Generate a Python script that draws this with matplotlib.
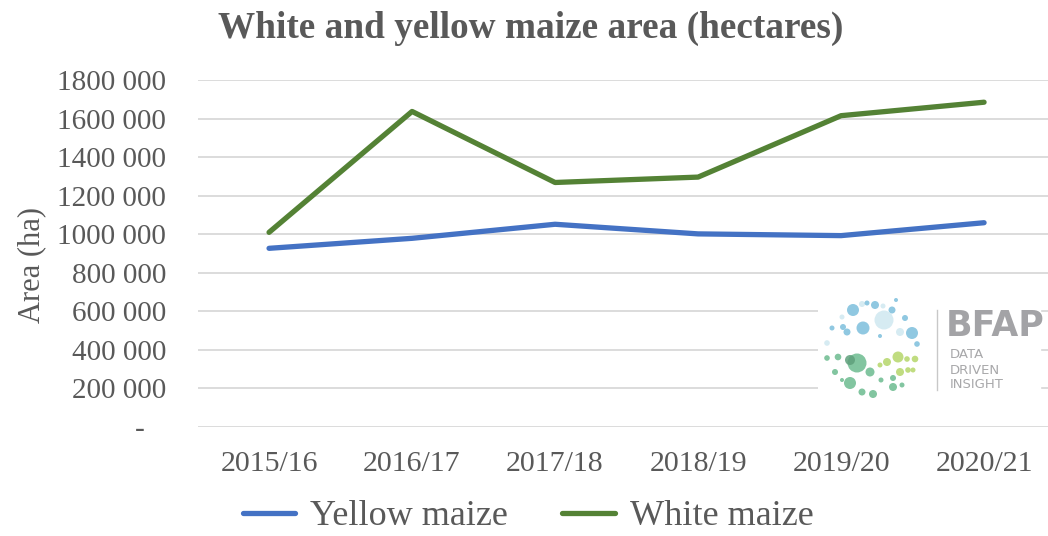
import numpy as np
import matplotlib
matplotlib.use("Agg")
import matplotlib.pyplot as plt
from matplotlib.patches import Circle, Rectangle
from matplotlib.ticker import FuncFormatter

# ---- data ----
seasons = ["2015/16", "2016/17", "2017/18", "2018/19", "2019/20", "2020/21"]
yellow = [928000, 980000, 1053000, 1003000, 994000, 1061000]
white = [1011000, 1639000, 1270000, 1298000, 1617000, 1687000]
yticks = np.arange(0, 1800001, 200000)

GREY = "#595959"
plt.rcParams["font.family"] = ["Liberation Serif", "DejaVu Serif"]

fig = plt.figure(figsize=(10.48, 5.36), dpi=100)
ax = fig.add_axes([0.1885, 0.2034, 0.8115, 0.6465])

x = np.arange(len(seasons))
ax.plot(x, yellow, color="#4472C4", lw=3.8, solid_capstyle="round", label="Yellow maize", zorder=3)
ax.plot(x, white, color="#548235", lw=3.8, solid_capstyle="round", label="White maize", zorder=3)

ax.set_xlim(-0.5, 5.447)
ax.set_ylim(0, 1800000)
ax.set_xticks(x)
ax.set_xticklabels(seasons)
ax.set_yticks(yticks)
ax.yaxis.set_major_formatter(FuncFormatter(lambda v, p: f"{int(v // 1000)} 000" if v else "-   "))
ax.tick_params(axis="both", length=0, labelcolor=GREY)
ax.tick_params(axis="y", pad=22.7, labelsize=21)
ax.tick_params(axis="x", pad=17, labelsize=21.5)
ax.grid(axis="y", color="#D9D9D9", lw=1.3, zorder=0)
for s in ax.spines.values():
    s.set_visible(False)

fig.text(32 / 1048, 1 - 265.5 / 536, "Area (ha)", rotation=90, ha="center", va="center",
         fontsize=22, color=GREY)
fig.text(0.506, 1 - 28 / 536, "White and yellow maize area (hectares)", ha="center", va="center",
         fontsize=26.8, fontweight="bold", color=GREY)

ax.legend(loc="center", bbox_to_anchor=(0.504, 0.036), bbox_transform=fig.transFigure,
          ncol=2, frameon=False, fontsize=26, labelcolor=GREY, handlelength=1.45,
          columnspacing=1.5, handletextpad=0.42, borderaxespad=0, borderpad=0)

# ---- BFAP logo (decoration) drawn in pixel space ----
lg = fig.add_axes([818 / 1048, (536 - 405) / 536, 228 / 1048, 112 / 536])
lg.set_xlim(818, 1046)
lg.set_ylim(405, 293)
lg.set_aspect("auto")
lg.axis("off")
lg.add_patch(Rectangle((818, 293), 222, 112, color="white", zorder=0))
blue, pale, teal, lime = "#7dbfdc", "#cfe8f0", "#6cbb8f", "#b5d66a"
dots = [
    (853, 310, 6, blue), (862, 304, 3, pale), (875, 305, 4, blue), (867, 303, 2.5, blue),
    (883, 306, 2.5, pale), (892, 310, 3.5, blue), (863, 328, 6.5, blue), (884, 320, 9.5, pale),
    (843, 327, 3, blue), (832, 328, 2.5, blue), (847, 332, 3.5, blue), (905, 318, 3, blue),
    (900, 332, 4, pale), (912, 333, 6, blue), (917, 344, 2.8, blue), (827, 343, 2.8, pale),
    (842, 317, 2.5, pale), (896, 300, 2, blue), (880, 336, 2, blue),
    (827, 358, 2.8, teal), (838, 357, 3.3, teal), (857, 363, 9.5, teal), (850, 360, 5, "#5fa07c"),
    (870, 372, 4.5, teal), (835, 372, 3, teal), (850, 383, 6, teal), (862, 392, 3.5, teal),
    (873, 394, 4, teal), (881, 380, 2.5, teal), (893, 378, 3, teal), (893, 387, 4, teal),
    (902, 385, 2.5, teal), (842, 380, 2, teal),
    (887, 362, 4, lime), (898, 357, 5.5, lime), (907, 359, 2.8, lime), (915, 359, 3.3, lime),
    (900, 372, 4, lime), (908, 370, 2.8, lime), (913, 370, 2.5, lime), (880, 365, 2.5, lime),
]
for cx, cy, r, c in dots:
    lg.add_patch(Circle((cx, cy), r, color=c, alpha=0.85, lw=0, zorder=2))
lg.plot([937, 937], [310, 390], color="#c8c8c8", lw=1.0, zorder=2)
lg.text(946, 326, "BFAP", fontsize=25, fontweight="bold", color="#a3a3a6",
        family="DejaVu Sans", va="center", ha="left", zorder=3)
for yy, word in zip([355, 370, 385], ["DATA", "DRIVEN", "INSIGHT"]):
    lg.text(950, yy, word, fontsize=9.5, color="#a8a8aa", family="DejaVu Sans",
            va="center", ha="left", zorder=3)

fig.savefig("out.png", dpi=100)
